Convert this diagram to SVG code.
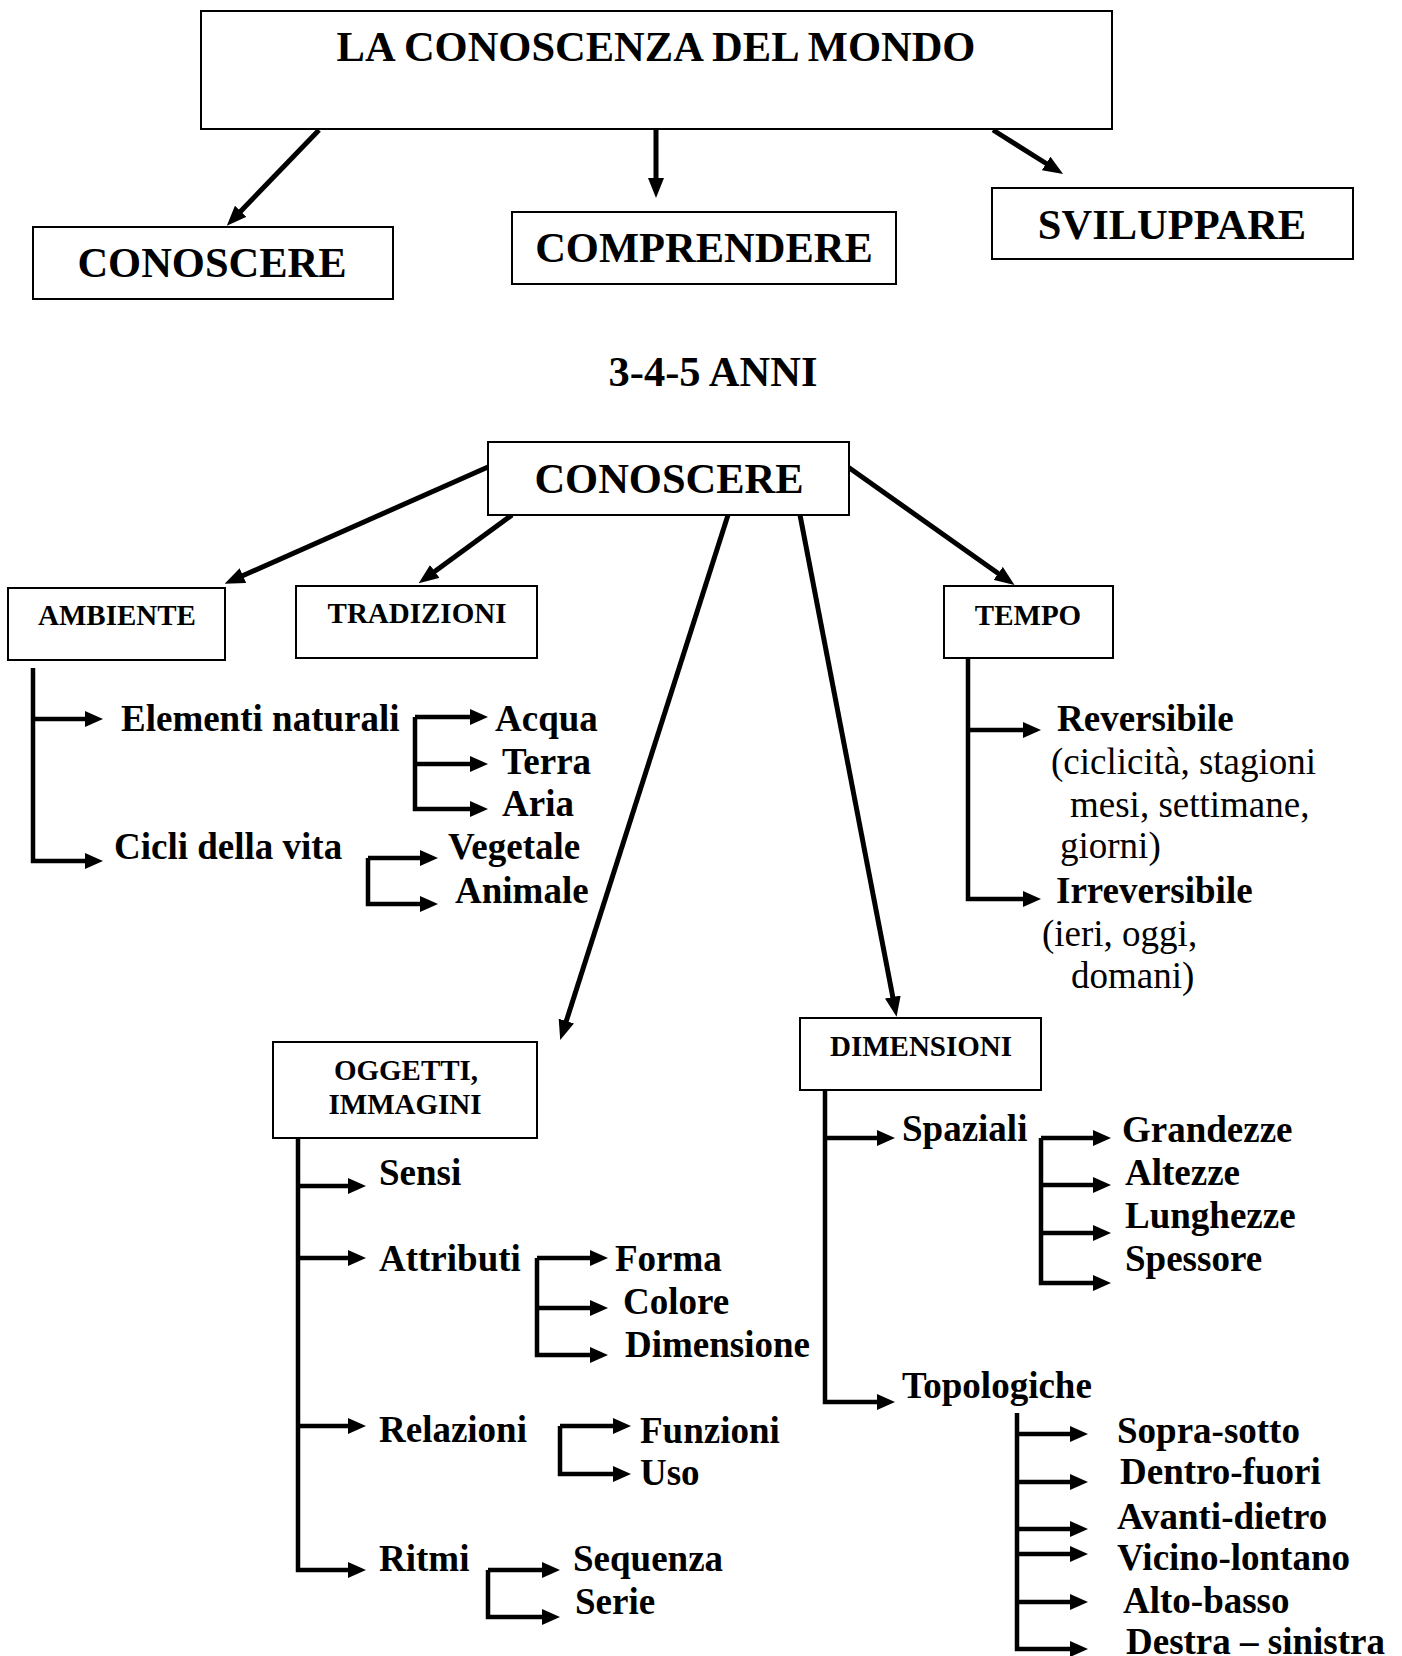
<svg xmlns="http://www.w3.org/2000/svg" width="1402" height="1656" viewBox="0 0 1402 1656">
<defs>
<style>
.box{fill:#fff;stroke:#000;stroke-width:2}
.t{font-family:"Liberation Serif","Times New Roman",serif;font-weight:bold;fill:#000}
.xl{font-size:42.5px;text-anchor:middle}
.sm{font-size:29px;text-anchor:middle}
.md{font-size:37px}
.rg{font-family:"Liberation Serif","Times New Roman",serif;font-size:37px;fill:#000}
.c{fill:none;stroke:#000;stroke-width:5;marker-end:url(#ahL)}
.tr{fill:none;stroke:#000;stroke-width:4.5;marker-end:url(#ah)}
</style>
<marker id="ah" viewBox="0 0 18 16" refX="3" refY="8" markerWidth="18" markerHeight="16" markerUnits="userSpaceOnUse" orient="auto"><path d="M0,0 L18,8 L0,16 z" fill="#000"/></marker>
<marker id="ahL" viewBox="0 0 20 16" refX="1" refY="8" markerWidth="20" markerHeight="16" markerUnits="userSpaceOnUse" orient="auto"><path d="M0,0 L20,8 L0,16 z" fill="#000"/></marker>
</defs>
<rect width="1402" height="1656" fill="#fff"/>

<g id="connectors">
<path class="c" d="M319,130 L240,212"/>
<path class="c" d="M656,130 L656,179"/>
<path class="c" d="M993,130 L1047,164"/>
<path class="c" d="M488,467 L242,576"/>
<path class="c" d="M512,515 L434,572"/>
<path class="c" d="M728,515 L566,1022"/>
<path class="c" d="M800,515 L893,998"/>
<path class="c" d="M848,467 L999,574"/>

<path class="tr" d="M33,668 V861 H88"/>
<path class="tr" d="M33,719 H88"/>
<path class="tr" d="M415,717 H473"/>
<path class="tr" d="M415,717 V809 H473"/>
<path class="tr" d="M415,764 H473"/>
<path class="tr" d="M368,858 H423"/>
<path class="tr" d="M368,858 V904 H423"/>

<path class="tr" d="M968,658 V899 H1026"/>
<path class="tr" d="M968,730 H1026"/>

<path class="tr" d="M298,1139 V1570 H351"/>
<path class="tr" d="M298,1186 H351"/>
<path class="tr" d="M298,1258 H351"/>
<path class="tr" d="M298,1426 H351"/>
<path class="tr" d="M537,1258 H593"/>
<path class="tr" d="M537,1258 V1355 H593"/>
<path class="tr" d="M537,1308 H593"/>
<path class="tr" d="M560,1426 H616"/>
<path class="tr" d="M560,1426 V1474 H616"/>
<path class="tr" d="M488,1570 H545"/>
<path class="tr" d="M488,1570 V1617 H545"/>

<path class="tr" d="M825,1090 V1402 H880"/>
<path class="tr" d="M825,1138 H880"/>
<path class="tr" d="M1041,1138 H1096"/>
<path class="tr" d="M1041,1138 V1283 H1096"/>
<path class="tr" d="M1041,1185 H1096"/>
<path class="tr" d="M1041,1233 H1096"/>
<path class="tr" d="M1017,1413 V1649 H1073"/>
<path class="tr" d="M1017,1434 H1073"/>
<path class="tr" d="M1017,1482 H1073"/>
<path class="tr" d="M1017,1529 H1073"/>
<path class="tr" d="M1017,1554 H1073"/>
<path class="tr" d="M1017,1602 H1073"/>
</g>

<g id="n-mondo"><rect class="box" x="201" y="11" width="911" height="118"/><text class="t xl" x="656" y="61">LA CONOSCENZA DEL MONDO</text></g>
<g id="n-conoscere1"><rect class="box" x="33" y="227" width="360" height="72"/><text class="t xl" x="212" y="277">CONOSCERE</text></g>
<g id="n-comprendere"><rect class="box" x="512" y="212" width="384" height="72"/><text class="t xl" x="704" y="262">COMPRENDERE</text></g>
<g id="n-sviluppare"><rect class="box" x="992" y="188" width="361" height="71"/><text class="t xl" x="1172" y="239">SVILUPPARE</text></g>
<g id="n-anni"><text class="t xl" x="713" y="386">3-4-5 ANNI</text></g>
<g id="n-conoscere2"><rect class="box" x="488" y="442" width="361" height="73"/><text class="t xl" x="669" y="493">CONOSCERE</text></g>

<g id="n-ambiente"><rect class="box" x="8" y="588" width="217" height="72"/><text class="t sm" x="117" y="625">AMBIENTE</text></g>
<g id="n-tradizioni"><rect class="box" x="296" y="586" width="241" height="72"/><text class="t sm" x="417" y="623">TRADIZIONI</text></g>
<g id="n-tempo"><rect class="box" x="944" y="586" width="169" height="72"/><text class="t sm" x="1028" y="625">TEMPO</text></g>
<g id="n-oggetti"><rect class="box" x="273" y="1042" width="264" height="96"/><text class="t sm" x="406" y="1080">OGGETTI,</text><text class="t sm" x="405" y="1114">IMMAGINI</text></g>
<g id="n-dimensioni"><rect class="box" x="800" y="1018" width="241" height="72"/><text class="t sm" x="921" y="1056">DIMENSIONI</text></g>

<g id="n-elementi"><text class="t md" x="121" y="731">Elementi naturali</text></g>
<g id="n-acqua"><text class="t md" x="495" y="731">Acqua</text></g>
<g id="n-terra"><text class="t md" x="502" y="774">Terra</text></g>
<g id="n-aria"><text class="t md" x="502" y="816">Aria</text></g>
<g id="n-cicli"><text class="t md" x="114" y="859">Cicli della vita</text></g>
<g id="n-vegetale"><text class="t md" x="448" y="859">Vegetale</text></g>
<g id="n-animale"><text class="t md" x="455" y="903">Animale</text></g>

<g id="n-reversibile"><text class="t md" x="1057" y="731">Reversibile</text><text class="rg" x="1051" y="774">(ciclicità, stagioni</text><text class="rg" x="1070" y="817">mesi, settimane,</text><text class="rg" x="1060" y="858">giorni)</text></g>
<g id="n-irreversibile"><text class="t md" x="1056" y="903">Irreversibile</text><text class="rg" x="1042" y="946">(ieri, oggi,</text><text class="rg" x="1071" y="988">domani)</text></g>

<g id="n-sensi"><text class="t md" x="379" y="1185">Sensi</text></g>
<g id="n-attributi"><text class="t md" x="379" y="1271">Attributi</text></g>
<g id="n-forma"><text class="t md" x="615" y="1271">Forma</text></g>
<g id="n-colore"><text class="t md" x="623" y="1314">Colore</text></g>
<g id="n-dimensione"><text class="t md" x="625" y="1357">Dimensione</text></g>
<g id="n-relazioni"><text class="t md" x="379" y="1442">Relazioni</text></g>
<g id="n-funzioni"><text class="t md" x="640" y="1443">Funzioni</text></g>
<g id="n-uso"><text class="t md" x="640" y="1485">Uso</text></g>
<g id="n-ritmi"><text class="t md" x="379" y="1571">Ritmi</text></g>
<g id="n-sequenza"><text class="t md" x="573" y="1571">Sequenza</text></g>
<g id="n-serie"><text class="t md" x="575" y="1614">Serie</text></g>

<g id="n-spaziali"><text class="t md" x="902" y="1141">Spaziali</text></g>
<g id="n-grandezze"><text class="t md" x="1122" y="1142">Grandezze</text></g>
<g id="n-altezze"><text class="t md" x="1125" y="1185">Altezze</text></g>
<g id="n-lunghezze"><text class="t md" x="1125" y="1228">Lunghezze</text></g>
<g id="n-spessore"><text class="t md" x="1125" y="1271">Spessore</text></g>
<g id="n-topologiche"><text class="t md" x="902" y="1398">Topologiche</text></g>
<g id="n-sopra"><text class="t md" x="1117" y="1443">Sopra-sotto</text></g>
<g id="n-dentro"><text class="t md" x="1120" y="1484">Dentro-fuori</text></g>
<g id="n-avanti"><text class="t md" x="1117" y="1529">Avanti-dietro</text></g>
<g id="n-vicino"><text class="t md" x="1117" y="1570">Vicino-lontano</text></g>
<g id="n-alto"><text class="t md" x="1123" y="1613">Alto-basso</text></g>
<g id="n-destra"><text class="t md" x="1126" y="1654">Destra – sinistra</text></g>
</svg>
